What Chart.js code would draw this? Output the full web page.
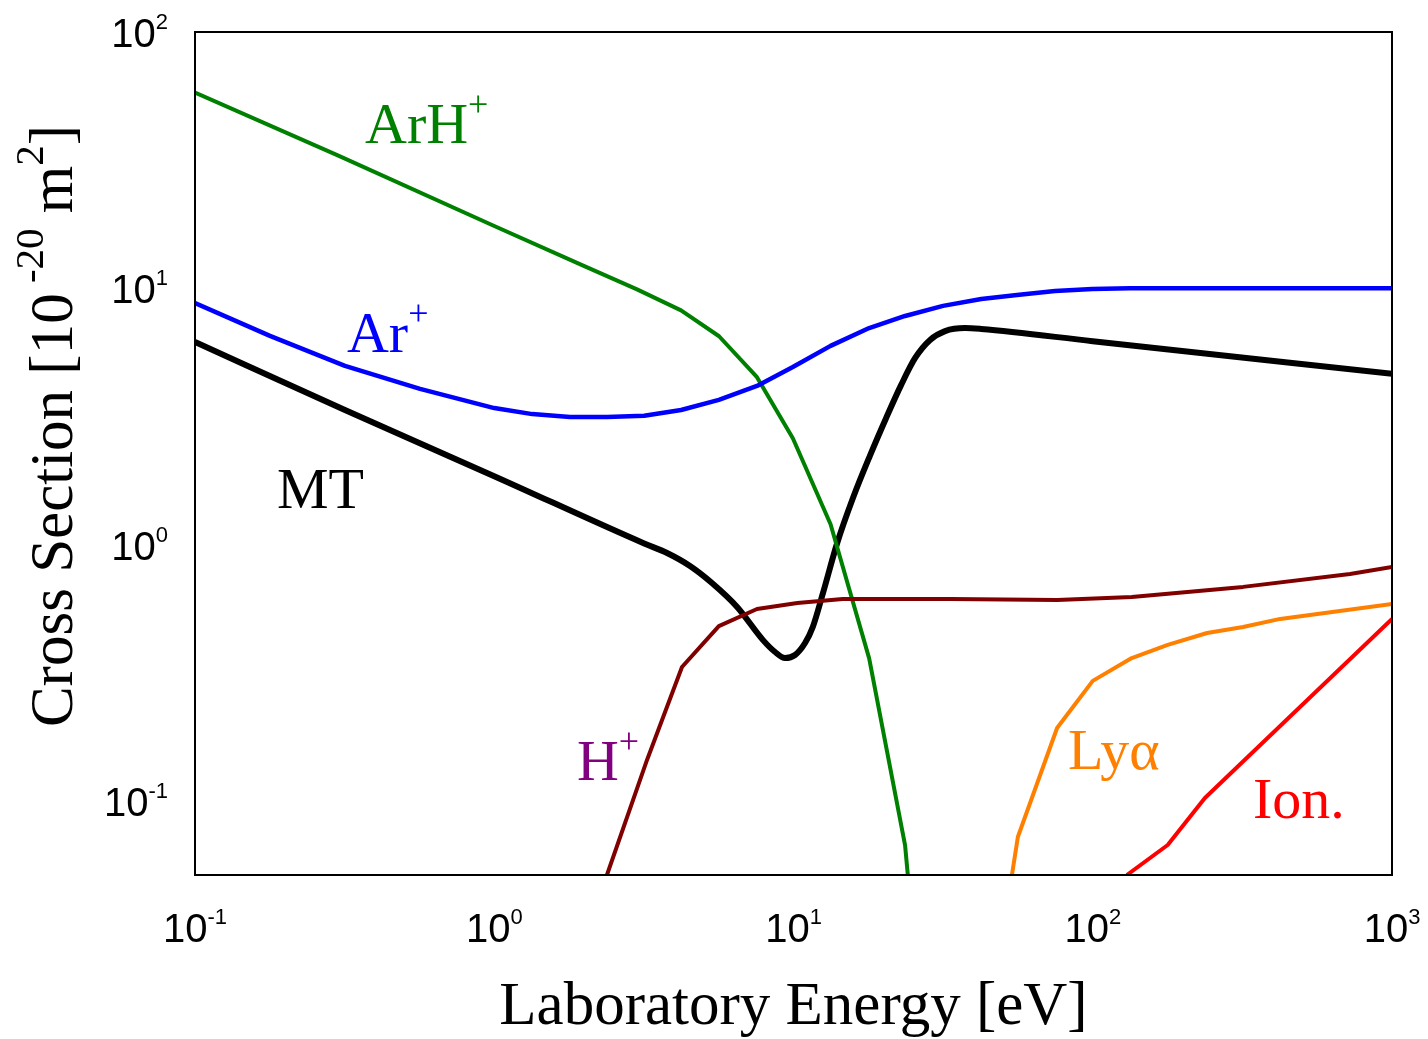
<!DOCTYPE html>
<html>
<head>
<meta charset="utf-8">
<title>Cross Section vs Laboratory Energy</title>
<script src="https://cdn.jsdelivr.net/npm/chart.js@4.4.1/dist/chart.umd.min.js"></script>
<style>
  html, body { margin: 0; padding: 0; background: #fff; }
  #wrap { width: 1428px; height: 1039px; position: relative; }
</style>
</head>
<body>
<div id="wrap"><canvas id="xsChart"></canvas></div>
<script>
/* =========================================================================
   Cross sections (10^-20 m^2) vs laboratory energy (eV), log-log
   ========================================================================= */

// ── Data ──────────────────────────────────────────────────────────────────
var mtEnergy  = [0.1, 0.317, 1.0, 3.17, 3.78, 4.51, 5.34, 6.48, 7.91, 8.68, 9.37, 10.12, 10.93, 11.6, 12.55, 13.98, 15.8, 18.0, 20.4, 22.9, 25.5, 28.6, 32.1, 37.4, 42.4, 100, 1000];
var mtSigma   = [6.17, 3.35, 1.85, 1.01, 0.927, 0.825, 0.708, 0.571, 0.424, 0.381, 0.361, 0.371, 0.413, 0.477, 0.648, 1.01, 1.52, 2.22, 3.12, 4.20, 5.35, 6.29, 6.81, 7.00, 6.94, 6.22, 4.64];

var arhEnergy = [0.1, 0.3, 1, 2, 3, 4.21, 5.64, 7.55, 9.95, 13.3, 17.9, 23.6, 24.1];
var arhSigma  = [58, 33, 17.5, 12.2, 9.9, 8.2, 6.5, 4.5, 2.6, 1.2, 0.36, 0.067, 0.0514];

var arEnergy  = [0.1, 0.178, 0.317, 0.565, 1.0, 1.34, 1.79, 2.38, 3.17, 4.21, 5.63, 7.55, 9.95, 13.3, 17.9, 23.6, 31.6, 42.4, 55.8, 74.8, 99.6, 133, 1000];
var arSigma   = [8.76, 6.52, 4.98, 4.05, 3.41, 3.23, 3.15, 3.15, 3.18, 3.35, 3.67, 4.16, 4.93, 5.96, 7.00, 7.80, 8.54, 9.09, 9.42, 9.76, 9.94, 10.0, 10.0];

var hEnergy   = [2.38, 3.24, 4.24, 5.63, 7.55, 10.3, 14.6, 19.9, 33.4, 76, 135, 318, 724, 1000];
var hSigma    = [0.0514, 0.1445, 0.333, 0.481, 0.561, 0.592, 0.613, 0.613, 0.613, 0.608, 0.624, 0.684, 0.768, 0.818];

var lyaEnergy = [53.7, 56.2, 76, 100, 135, 178, 241, 318, 423, 1000];
var lyaSigma  = [0.0514, 0.0723, 0.1925, 0.294, 0.361, 0.406, 0.452, 0.477, 0.513, 0.587];

var ionEnergy = [130, 178, 237, 1000];
var ionSigma  = [0.0514, 0.0673, 0.1026, 0.5125];

var xTicks    = [0.1, 1, 10, 100, 1000];
var xTickExp  = ['-1', '0', '1', '2', '3'];
var yTicks    = [0.1, 1, 10, 100];
var yTickExp  = ['-1', '0', '1', '2'];

// ── Helpers ───────────────────────────────────────────────────────────────
function pairs(xs, ys) {
    return xs.map(function(x, i) { return { x: x, y: ys[i] }; });
}

var SERIF = '"Liberation Serif", "Times New Roman", serif';
var SANS  = '"Liberation Sans", Arial, sans-serif';

// draws text runs (with raised superscripts) on one baseline
function drawRuns(ctx, runs, x, y, align) {
    var total = 0;
    runs.forEach(function(r) { ctx.font = r.font; r.w = ctx.measureText(r.text).width; total += r.w; });
    var cx = align === 'center' ? x - total / 2 : (align === 'right' ? x - total : x);
    ctx.textAlign = 'left';
    ctx.textBaseline = 'alphabetic';
    runs.forEach(function(r) {
        ctx.font = r.font;
        ctx.fillText(r.text, cx, y - (r.rise || 0));
        cx += r.w;
    });
}

function tickRuns(exp) {
    return [
        { text: '10', font: '40px ' + SANS },
        { text: exp,  font: '22px ' + SANS, rise: 18 }
    ];
}

// curve labels, anchored in data coordinates (left edge / baseline)
var curveLabels = [
    { text: 'ArH', sup: '+', x: 0.370, y: 36.9,  color: '#008000' },
    { text: 'Ar',  sup: '+', x: 0.322, y: 5.64,  color: '#0000ff' },
    { text: 'MT',  sup: '',  x: 0.188, y: 1.39,  color: '#000000' },
    { text: 'H',   sup: '+', x: 1.89,  y: 0.1207, color: '#800080' },
    { text: 'Ly\u03b1', sup: '', x: 82.6, y: 0.1332, color: '#ff8000' },
    { text: 'Ion.', sup: '', x: 343,  y: 0.0858, color: '#ff0000' }
];

// ── Plugin: frame, tick labels, titles, curve labels ─────────────────────
var decorations = {
    id: 'decorations',
    afterDatasetsDraw: function(chart) {
        var ctx = chart.ctx;
        var a = chart.chartArea;
        var sx = chart.scales.x, sy = chart.scales.y;
        ctx.save();

        // frame
        ctx.strokeStyle = '#000';
        ctx.lineWidth = 2;
        ctx.strokeRect(a.left, a.top, a.right - a.left, a.bottom - a.top);

        ctx.fillStyle = '#000';
        // x tick labels
        xTicks.forEach(function(v, i) {
            drawRuns(ctx, tickRuns(xTickExp[i]), sx.getPixelForValue(v), a.bottom + 67, 'center');
        });
        // y tick labels
        yTicks.forEach(function(v, i) {
            drawRuns(ctx, tickRuns(yTickExp[i]), a.left - 27, sy.getPixelForValue(v) + 15, 'right');
        });

        // x title
        drawRuns(ctx, [{ text: 'Laboratory Energy [eV]', font: '61px ' + SERIF }],
            (a.left + a.right) / 2, a.bottom + 149, 'center');

        // y title (rotated)
        ctx.save();
        ctx.translate(a.left - 123, 426);
        ctx.rotate(-Math.PI / 2);
        drawRuns(ctx, [
            { text: 'Cross Section [10', font: '61px ' + SERIF },
            { text: ' -20',              font: '41px ' + SERIF, rise: 29 },
            { text: ' m',                font: '61px ' + SERIF },
            { text: '2',                 font: '41px ' + SERIF, rise: 29 },
            { text: ']',                 font: '61px ' + SERIF }
        ], 0, 0, 'center');
        ctx.restore();

        // curve labels
        curveLabels.forEach(function(l) {
            ctx.fillStyle = l.color;
            var runs = [{ text: l.text, font: '58px ' + SERIF }];
            if (l.sup) runs.push({ text: l.sup, font: '36px ' + SERIF, rise: 27 });
            drawRuns(ctx, runs, sx.getPixelForValue(l.x), sy.getPixelForValue(l.y), 'left');
        });

        ctx.restore();
    }
};

// ── Chart ─────────────────────────────────────────────────────────────────
function line(label, xs, ys, color, width, smooth) {
    return {
        label: label,
        data: pairs(xs, ys),
        borderColor: color,
        backgroundColor: color,
        borderWidth: width,
        pointRadius: 0,
        fill: false,
        clip: 0,
        tension: 0,
        borderJoinStyle: 'round',
        cubicInterpolationMode: smooth ? 'monotone' : 'default'
    };
}

new Chart(document.getElementById('xsChart'), {
    type: 'line',
    data: {
        // first listed = drawn on top
        datasets: [
            line('Ion.',  ionEnergy, ionSigma, '#ff0000', 4, false),
            line('Ly\u03b1', lyaEnergy, lyaSigma, '#ff8000', 4, false),
            line('H+',    hEnergy,   hSigma,   '#800000', 4, false),
            line('Ar+',   arEnergy,  arSigma,  '#0000ff', 4.5, false),
            line('ArH+',  arhEnergy, arhSigma, '#008000', 4, false),
            line('MT',    mtEnergy,  mtSigma,  '#000000', 6, true)
        ]
    },
    options: {
        responsive: true,
        maintainAspectRatio: false,
        animation: false,
        events: [],
        layout: { padding: { left: 195, top: 32, right: 36, bottom: 164 } },
        plugins: { legend: { display: false }, tooltip: { enabled: false } },
        scales: {
            x: { type: 'logarithmic', min: 0.1, max: 1000, display: false },
            y: { type: 'logarithmic', min: 0.0514, max: 100, display: false }
        }
    },
    plugins: [decorations]
});
</script>
</body>
</html>
